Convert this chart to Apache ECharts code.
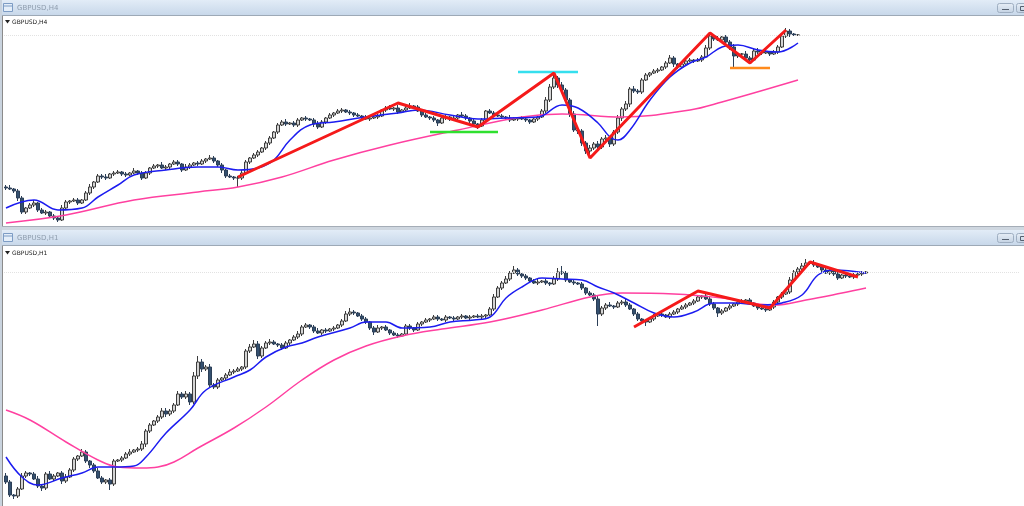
<!DOCTYPE html>
<html>
<head>
<meta charset="utf-8">
<script src="https://cdn.jsdelivr.net/npm/echarts@6/dist/echarts.min.js"></script>
<style>
html,body{margin:0;padding:0;background:#fff;}
#c{width:1024px;height:506px;}
</style>
</head>
<body>
<div id="c"></div>
<script>
// ---------- H4 panel (values = price height units) ----------
const h4FirstOpen = 41;
const h4Close = [
40,39,37,30,16,20,23,25,18,15,
16,12,10,8,20,26,27,28,25,28,
35,41,46,52,51,50,54,55,56,54,
53,55,57,55,50,55,60,62,63,60,
61,64,66,64,58,61,63,65,64,67,
69,70,67,63,58,52,51,50,50,55,
66,70,73,76,80,85,90,96,103,106,
104,105,103,108,110,109,108,104,101,106,
110,113,115,117,118,116,115,113,112,111,
109,110,111,112,118,120,119,120,116,118,
120,122,121,117,113,111,110,108,105,110,
111,109,110,113,112,110,107,104,102,108,
117,115,113,112,111,110,108,109,110,109,
108,106,109,111,117,128,141,150,143,138,
128,114,98,97,85,77,80,84,81,89,
90,84,96,110,119,124,139,137,136,148,
153,155,157,158,161,165,170,164,161,164,
167,168,167,168,171,180,192,189,188,191,
186,181,172,174,174,170,168,177,176,175,
176,174,176,181,192,197,194,193,193];
const h4WickUp = [
2,3,1,2,2,1,2,3,1,2, 2,1,2,1,3,2,1,2,2,1, 2,3,1,2,2,3,1,2,2,1, 2,1,3,1,2,2,1,2,1,3,
2,1,2,2,1,3,2,1,2,2, 1,3,2,1,2,1,2,1,2,3, 2,1,2,2,1,2,2,1,2,2, 3,1,2,2,1,2,1,2,3,2,
1,2,1,2,2,1,2,1,2,1, 2,1,2,2,1,2,3,1,3,1, 2,3,1,2,1,2,1,2,1,2, 2,1,2,1,3,2,1,2,1,2,
1,2,2,1,2,1,3,2,1,2, 2,1,2,1,2,3,3,6,2,3, 2,2,3,2,2,2,3,2,3,2, 3,2,2,3,2,3,2,3,2,2,
2,1,2,2,1,2,3,2,1,2, 1,2,1,2,2,3,4,2,3,1, 2,2,3,2,1,3,2,2,3,1, 2,1,2,2,3,3,2,1,1];
const h4WickDn = [
2,1,2,3,2,2,1,2,2,1, 2,2,2,2,1,2,2,1,2,1, 1,2,2,1,2,2,1,2,1,2, 2,1,1,2,2,1,2,1,2,1,
2,2,1,2,2,1,2,1,2,1, 2,1,2,2,3,2,1,2,9,2, 1,2,1,2,1,2,2,1,2,1, 2,1,2,2,1,2,1,3,2,1,
2,1,2,1,2,1,2,2,1,2, 1,2,1,2,1,2,1,2,2,1, 2,1,2,1,2,1,2,2,3,1, 2,2,1,2,1,2,2,2,3,1,
2,1,2,1,2,2,2,1,2,1, 2,2,1,2,1,2,2,2,3,2, 3,3,2,3,3,3,6,2,3,2, 2,3,2,2,3,2,3,2,2,2,
1,2,1,2,1,2,1,3,2,1, 2,1,2,1,2,1,2,2,1,2, 3,3,11,2,2,2,3,1,2,2, 1,2,1,2,1,2,3,1,1];
// moving averages read as [bar index, value]
const h4FastMA = [[0,20],[7,28],[13,18],[19,20],[23,31],[28,43],[32,53],[40,58],[48,61],[53,61],[58,58],[63,60],[67,68],[71,88],[76,103],[82,106],[90,111],[98,115],[103,118],[111,113],[118,109],[125,110],[133,111],[139,123],[143,120],[148,105],[151,91],[153,88],[156,98],[161,128],[166,151],[171,165],[175,171],[179,181],[183,183],[188,178],[193,176],[198,185]];
const h4SlowMA = [[0,5],[15,13],[32,28],[48,36],[58,41],[69,51],[82,68],[96,83],[113,98],[129,111],[139,114],[154,111],[171,118],[179,126],[198,148]];
const h4Zigzag = [[58,51],[98,125],[118,101],[137,155],[146,70],[176,195],[186,165],[195,198]];
const h4Resist = [[128,156],[143,156]];
const h4Support = [[106,96],[123,96]];
const h4Base = [[181,160],[191,160]];

// ---------- H1 panel ----------
const h1FirstOpen = 30;
const h1Close = [
24,11,10,17,30,33,32,27,20,18,
32,27,30,33,25,29,36,47,50,54,
45,41,35,28,24,26,22,45,46,48,
52,54,56,57,62,75,81,85,89,95,
92,95,101,112,109,112,104,130,144,137,
139,121,119,126,128,131,134,135,137,139,
155,159,162,150,158,163,164,162,161,158,
163,166,169,172,179,181,179,175,173,176,
175,177,178,181,185,192,194,193,190,187,
184,178,174,178,179,176,173,171,170,172,
180,178,176,182,184,186,187,189,187,186,
189,188,187,189,190,188,189,190,189,190,
191,197,209,218,223,227,233,236,232,230,
228,225,223,224,225,223,222,227,234,233,
226,224,223,222,218,213,211,207,192,198,
201,200,199,203,204,201,197,192,187,185,
184,187,190,192,191,189,192,194,197,199,
201,203,205,209,210,207,202,198,193,195,
198,200,202,204,205,206,203,200,198,197,
196,199,204,209,212,214,226,234,237,240,
243,243,241,239,236,233,235,232,228,231,
230,229,231,232,233,234];
const h1WickUp = [
3,2,1,2,3,2,1,2,3,2, 2,3,2,1,2,3,2,2,1,3, 2,1,2,3,2,1,2,2,1,2, 2,3,1,2,3,2,2,1,2,3,
3,2,2,3,2,3,2,4,6,3, 2,3,2,2,1,2,3,2,2,1, 2,3,4,3,2,2,3,2,1,2, 2,1,2,3,2,2,1,2,3,1,
2,1,2,1,2,3,4,2,1,2, 2,1,2,3,1,2,1,2,2,1, 2,2,1,2,1,2,1,2,2,1, 2,1,2,1,2,1,2,1,2,2,
1,2,3,2,2,3,2,4,2,1, 2,1,2,3,1,2,1,3,4,6, 2,1,2,1,2,1,2,2,3,2, 2,3,1,2,2,3,2,1,2,1,
1,2,2,1,2,1,2,2,1,2, 2,1,2,2,1,2,3,2,1,2, 1,2,1,2,2,1,2,1,2,1, 2,1,2,1,2,2,3,2,2,3,
4,2,3,2,1,2,2,1,2,1, 2,1,2,1,2,1];
const h1WickDn = [
2,2,3,2,1,2,2,1,2,3, 2,1,2,1,3,2,1,2,2,1, 2,3,2,1,2,2,6,2,1,2, 1,2,1,2,2,3,2,1,2,2,
3,2,2,1,2,2,3,2,3,3, 2,3,2,2,1,2,1,2,1,2, 2,2,1,3,2,1,2,1,2,2, 1,2,1,2,2,1,2,2,1,2,
2,1,2,1,2,1,2,2,1,2, 2,2,3,1,2,1,2,1,2,1, 1,2,2,1,2,1,2,1,2,1, 2,1,2,1,2,1,2,1,1,2,
2,1,2,1,2,1,2,1,2,2, 2,2,1,2,1,2,2,1,2,2, 2,1,2,1,2,2,1,2,12,2, 2,1,2,1,2,2,1,2,2,2,
4,1,2,1,2,1,2,1,2,1, 2,1,2,1,2,1,2,2,4,2, 1,2,1,2,1,2,2,1,2,1, 2,1,2,1,2,1,2,1,2,2,
1,2,2,1,2,1,2,2,2,1, 2,1,2,1,2,1];
const h1FastMA = [[0,49],[4,29],[8,21],[14,28],[19,33],[23,39],[27,39],[32,40],[35,49],[40,73],[46,96],[50,116],[57,129],[61,136],[65,149],[70,159],[74,163],[78,169],[86,178],[90,184],[95,184],[99,178],[106,179],[111,184],[117,186],[121,189],[125,208],[129,219],[134,228],[139,227],[144,226],[148,219],[152,213],[157,203],[162,193],[167,189],[172,194],[177,203],[182,203],[189,201],[194,203],[199,211],[203,231],[207,236],[215,233]];
const h1SlowMA = [[0,96],[6,86],[15,64],[23,46],[28,39],[34,38],[38,39],[42,44],[48,58],[57,78],[65,99],[74,126],[82,146],[90,160],[99,170],[109,177],[121,184],[134,196],[146,209],[154,213],[167,212],[179,208],[192,201],[200,206],[209,213],[215,218]];
const h1Zigzag = [[157,179],[173,215],[191,198],[201,244],[213,229]];

const SLOTS = 254;
const categories = Array.from({length: SLOTS}, (_, i) => String(i));

function toOHLC(firstOpen, closes, up, dn) {
  return closes.map((c, i) => {
    const o = i ? closes[i - 1] : firstOpen;
    return [o, c, Math.min(o, c) - dn[i], Math.max(o, c) + up[i]];
  });
}

const candleStyle = {
  color: '#d4d4d4', borderColor: '#3c3c3c',
  color0: '#34506f', borderColor0: '#2c3f57', borderWidth: 1
};
function candles(idx, data, bid) {
  return {
    type: 'candlestick', xAxisIndex: idx, yAxisIndex: idx, data: data,
    barWidth: 3, itemStyle: candleStyle, z: 2,
    markLine: {
      silent: true, symbol: 'none', label: {show: false},
      lineStyle: {color: '#e2e2e2', type: 'dotted', width: 1},
      data: [{yAxis: bid}]
    }
  };
}
function line(idx, data, color, width, smooth, z) {
  return {
    type: 'line', xAxisIndex: idx, yAxisIndex: idx, data: data,
    symbol: 'none', smooth: smooth ? 0.4 : false, z: z, silent: true,
    lineStyle: {color: color, width: width}
  };
}

const titleGrad = {type: 'linear', x: 0, y: 0, x2: 0, y2: 1,
  colorStops: [{offset: 0, color: '#e2ecf7'}, {offset: 1, color: '#c8d8ea'}]};
const btnGrad = {type: 'linear', x: 0, y: 0, x2: 0, y2: 1,
  colorStops: [{offset: 0, color: '#e8eff7'}, {offset: 1, color: '#c3d2e3'}]};

function windowChrome(y0, title) {
  return [
    {type: 'rect', shape: {x: 0, y: y0, width: 1024, height: 15}, style: {fill: titleGrad}},
    {type: 'line', shape: {x1: 0, y1: y0 + 15.5, x2: 1024, y2: y0 + 15.5}, style: {stroke: '#9da9b6', lineWidth: 1}},
    {type: 'rect', shape: {x: 3.5, y: y0 + 3.5, width: 9, height: 8}, style: {fill: '#e4eef9', stroke: '#7d9cc4', lineWidth: 1}},
    {type: 'line', shape: {x1: 4, y1: y0 + 6, x2: 12, y2: y0 + 6}, style: {stroke: '#7d9cc4', lineWidth: 1}},
    {type: 'text', style: {x: 17, y: y0 + 8, text: title, fill: '#8e9cad', font: '7px "DejaVu Sans"', verticalAlign: 'middle'}},
    {type: 'rect', shape: {x: 997.5, y: y0 + 3.5, width: 16, height: 9, r: 2}, style: {fill: btnGrad, stroke: '#9eaec1', lineWidth: 1}},
    {type: 'line', shape: {x1: 1002, y1: y0 + 9.5, x2: 1009, y2: y0 + 9.5}, style: {stroke: '#556070', lineWidth: 1}},
    {type: 'rect', shape: {x: 1016.5, y: y0 + 3.5, width: 16, height: 9, r: 2}, style: {fill: btnGrad, stroke: '#9eaec1', lineWidth: 1}},
    {type: 'rect', shape: {x: 1020.5, y: y0 + 6.5, width: 6, height: 4}, style: {fill: 'none', stroke: '#556070', lineWidth: 1}}
  ];
}
function chartLabel(y, text) {
  return [
    {type: 'polygon', shape: {points: [[5, y - 2], [10, y - 2], [7.5, y + 1.5]]}, style: {fill: '#222'}},
    {type: 'text', style: {x: 12, y: y, text: text, fill: '#222', font: '6px "DejaVu Sans"', verticalAlign: 'middle'}}
  ];
}

const chart = echarts.init(document.getElementById('c'), null, {renderer: 'canvas'});
chart.setOption({
  animation: false,
  backgroundColor: '#ffffff',
  grid: [
    {left: 4, width: 1016, top: 16, height: 211},
    {left: 4, width: 1016, top: 247, height: 259}
  ],
  xAxis: [0, 1].map(i => ({
    type: 'category', gridIndex: i, data: categories, boundaryGap: true,
    axisLine: {show: false}, axisTick: {show: false}, axisLabel: {show: false}, splitLine: {show: false}
  })),
  yAxis: [
    {type: 'value', gridIndex: 0, min: 1, max: 212, show: false, splitLine: {show: false}},
    {type: 'value', gridIndex: 1, min: 0, max: 259, show: false, splitLine: {show: false}}
  ],
  graphic: {elements: [].concat(
    windowChrome(0, 'GBPUSD,H4'),
    [
      {type: 'rect', shape: {x: 0, y: 226, width: 1024, height: 4}, style: {fill: '#cfd7e0'}},
      {type: 'line', shape: {x1: 0, y1: 226.5, x2: 1024, y2: 226.5}, style: {stroke: '#a5adb7', lineWidth: 1}}
    ],
    windowChrome(230, 'GBPUSD,H1'),
    [
      {type: 'rect', shape: {x: 0, y: 0, width: 2, height: 506}, style: {fill: '#c9d3de'}},
      {type: 'line', shape: {x1: 2.5, y1: 16, x2: 2.5, y2: 226}, style: {stroke: '#8b8b8b', lineWidth: 1}},
      {type: 'line', shape: {x1: 2.5, y1: 246, x2: 2.5, y2: 506}, style: {stroke: '#8b8b8b', lineWidth: 1}}
    ],
    chartLabel(22, 'GBPUSD,H4'),
    chartLabel(253, 'GBPUSD,H1')
  )},
  series: [
    candles(0, toOHLC(h4FirstOpen, h4Close, h4WickUp, h4WickDn), h4Close[h4Close.length - 1]),
    line(0, h4SlowMA, '#ff40a0', 1.5, true, 3),
    line(0, h4FastMA, '#1c1cf0', 1.5, true, 4),
    line(0, h4Support, '#2fe02f', 2.5, false, 5),
    line(0, h4Resist, '#35dfee', 2.5, false, 5),
    line(0, h4Base, '#ff8a1c', 2.5, false, 5),
    line(0, h4Zigzag, '#f51a1a', 3, false, 6),
    candles(1, toOHLC(h1FirstOpen, h1Close, h1WickUp, h1WickDn), h1Close[h1Close.length - 1]),
    line(1, h1SlowMA, '#ff40a0', 1.5, true, 3),
    line(1, h1FastMA, '#1c1cf0', 1.5, true, 4),
    line(1, h1Zigzag, '#f51a1a', 3, false, 6)
  ]
});
</script>
</body>
</html>
